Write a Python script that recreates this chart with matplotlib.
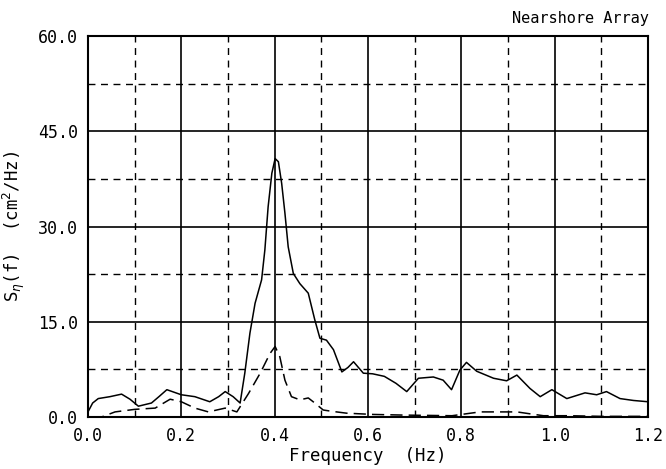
import matplotlib
matplotlib.use("Agg")
import matplotlib.pyplot as plt
from matplotlib.ticker import MultipleLocator

# Spectral density, total (solid) and the second component (dashed)
freq_total = [0.0, 0.010, 0.022, 0.047, 0.072, 0.090, 0.108, 0.136, 0.152, 0.169,
              0.200, 0.229, 0.261, 0.280, 0.294, 0.311, 0.326, 0.336, 0.347, 0.358,
              0.372, 0.379, 0.386, 0.394, 0.401, 0.408, 0.415, 0.422, 0.429, 0.440,
              0.454, 0.472, 0.486, 0.497, 0.511, 0.526, 0.544, 0.557, 0.569, 0.590,
              0.610, 0.635, 0.660, 0.683, 0.708, 0.740, 0.761, 0.779, 0.797, 0.811,
              0.833, 0.869, 0.897, 0.919, 0.947, 0.969, 0.994, 1.026, 1.065, 1.090,
              1.111, 1.140, 1.169, 1.2]
s_total = [0.8, 2.2, 2.9, 3.2, 3.6, 2.8, 1.7, 2.2, 3.2, 4.3,
           3.5, 3.2, 2.4, 3.2, 4.0, 3.2, 2.2, 6.9, 13.2, 17.9,
           21.6, 26.3, 33.1, 38.4, 40.7, 40.2, 36.8, 32.1, 26.8, 22.6,
           21.0, 19.5, 15.3, 12.4, 12.1, 10.6, 7.1, 7.8, 8.7, 6.9,
           6.8, 6.4, 5.3, 4.0, 6.1, 6.3, 5.8, 4.3, 7.4, 8.6,
           7.2, 6.1, 5.7, 6.6, 4.5, 3.2, 4.3, 2.9, 3.8, 3.5,
           4.0, 2.9, 2.6, 2.4]

freq_comp = [0.008, 0.029, 0.058, 0.100, 0.144, 0.176, 0.200, 0.229, 0.258, 0.294,
             0.319, 0.344, 0.369, 0.390, 0.401, 0.411, 0.422, 0.436, 0.454, 0.472,
             0.486, 0.504, 0.522, 0.554, 0.611, 0.676, 0.780, 0.800, 0.840, 0.876,
             0.919, 0.947, 0.976, 1.030, 1.100, 1.2]
s_comp = [0.0, 0.0, 0.8, 1.2, 1.4, 2.8, 2.4, 1.4, 0.8, 1.4,
          0.8, 3.7, 6.9, 10.0, 11.1, 9.5, 5.8, 3.2, 2.7, 3.0,
          2.2, 1.1, 0.9, 0.6, 0.4, 0.3, 0.2, 0.4, 0.8, 0.8,
          0.8, 0.5, 0.2, 0.2, 0.1, 0.1]

x_ticks = [0.0, 0.2, 0.4, 0.6, 0.8, 1.0, 1.2]
y_ticks = [0.0, 15.0, 30.0, 45.0, 60.0]

plt.rcParams["font.family"] = "DejaVu Sans Mono"

fig = plt.figure(figsize=(6.66, 4.69), dpi=100)
ax = fig.add_axes([0.1321, 0.1109, 0.8409, 0.8123])

ax.plot(freq_total, s_total, color="black", lw=1.1)
ax.plot(freq_comp, s_comp, color="black", lw=1.1, dashes=(8, 4))

ax.set_xlim(0, 1.2)
ax.set_ylim(0, 60)
ax.set_xticks(x_ticks)
ax.set_yticks(y_ticks)
ax.set_xticklabels([f"{v:.1f}" for v in x_ticks])
ax.set_yticklabels([f"{v:.1f}" for v in y_ticks])
ax.xaxis.set_minor_locator(MultipleLocator(0.1))
ax.yaxis.set_minor_locator(MultipleLocator(7.5))
ax.grid(which="major", color="black", lw=1.2, ls="-")
ax.grid(which="minor", color="black", lw=1.0, ls=(0, (5, 4)))
ax.set_axisbelow(True)
ax.tick_params(which="both", length=0, labelsize=12, pad=7)
for sp in ax.spines.values():
    sp.set_linewidth(1.5)

ax.set_xlabel("Frequency  (Hz)", fontsize=12.5, labelpad=2)
ax.set_ylabel(r"S$_\eta$(f)  (cm$^2$/Hz)", fontsize=12.5, labelpad=8)
fig.text(0.975, 0.952, "Nearshore Array", ha="right", va="baseline", fontsize=11)

fig.savefig("out.png", dpi=100)
